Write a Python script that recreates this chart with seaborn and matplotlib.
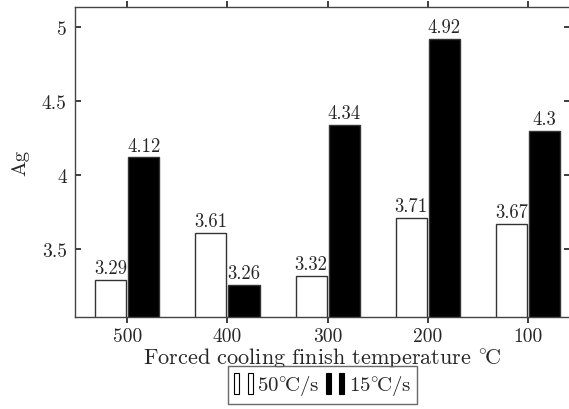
import numpy as np
import pandas as pd
import seaborn as sns
import matplotlib.pyplot as plt
from matplotlib.patches import Rectangle
from matplotlib.legend_handler import HandlerTuple

# data
temps = ["500", "400", "300", "200", "100"]
fast_rate = [3.29, 3.61, 3.32, 3.71, 3.67]   # 50°C/s
slow_rate = [4.12, 3.26, 4.34, 4.92, 4.30]   # 15°C/s
series_names = [r"50$^{\circ}\!$C/s", r"15$^{\circ}\!$C/s"]
y_ticks = [3.5, 4, 4.5, 5]
y_tick_labels = ["3.5", "4", "4.5", "5"]

df = pd.DataFrame({
    "temp": temps * 2,
    "Ag": fast_rate + slow_rate,
    "rate": [series_names[0]] * 5 + [series_names[1]] * 5,
})

sns.set_theme(style="white")
plt.rcParams["font.family"] = ["cmr10", "DejaVu Serif"]
plt.rcParams["mathtext.fontset"] = "cm"
plt.rcParams["axes.formatter.use_mathtext"] = True

fig = plt.figure(figsize=(5.69, 4.10), dpi=100)
ax = fig.add_axes([0.132, 0.224, 0.87, 0.756])

sns.barplot(data=df, x="temp", y="Ag", hue="rate", order=temps,
            hue_order=series_names, palette=["white", "black"],
            width=0.66, gap=0.06, edgecolor="#333333", linewidth=1.0,
            legend=False, ax=ax)

for cont in ax.containers:
    ax.bar_label(cont, labels=[f"{v:g}" for v in cont.datavalues],
                 padding=2, fontsize=13.5)

ax.set_xlim(-0.52, 4.42)
ax.set_ylim(3.04, 5.135)
ax.set_yticks(y_ticks)
ax.set_yticklabels(y_tick_labels)
ax.tick_params(axis="y", direction="in", length=4, labelsize=14, left=True, right=True, pad=6)
ax.tick_params(axis="x", direction="out", length=4, labelsize=14, bottom=True, top=True, pad=3)
for s in ax.spines.values():
    s.set_color("#444444")
    s.set_linewidth(1.0)

ax.set_xlabel(r"Forced cooling finish temperature $^{\circ}\!$C", fontsize=16, labelpad=0)
ax.set_ylabel("Ag", fontsize=15, labelpad=9)

h1 = (Rectangle((0, 0), 1, 1, fc="white", ec="black", lw=0.8),
      Rectangle((0, 0), 1, 1, fc="white", ec="black", lw=0.8))
h2 = (Rectangle((0, 0), 1, 1, fc="black", ec="black", lw=0.8),
      Rectangle((0, 0), 1, 1, fc="black", ec="black", lw=0.8))
leg = fig.legend([h1, h2], series_names, ncol=2, loc="lower center",
                 bbox_to_anchor=(0.567, -0.012), frameon=True, fancybox=False,
                 edgecolor="#444444", fontsize=15, handlelength=0.9,
                 handleheight=1.2, handletextpad=0.2, columnspacing=0.3,
                 borderpad=0.3,
                 handler_map={tuple: HandlerTuple(ndivide=None, pad=0.4)})
leg.get_frame().set_linewidth(1.0)

fig.savefig("out.png", dpi=100)
